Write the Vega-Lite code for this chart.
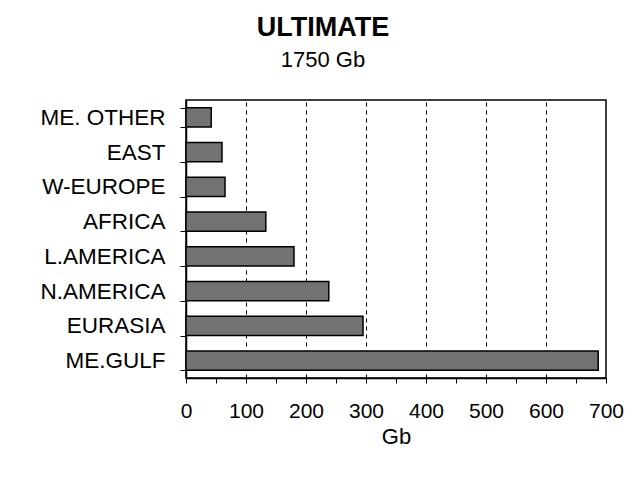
{
  "$schema": "https://vega.github.io/schema/vega-lite/v6.json",
  "autosize": "none",
  "width": 420,
  "height": 278,
  "padding": {"left": 186, "top": 100, "right": 34, "bottom": 102},
  "background": "white",
  "title": {
    "text": "ULTIMATE",
    "subtitle": "1750 Gb",
    "anchor": "middle",
    "frame": "group",
    "dx": -73,
    "offset": 17,
    "font": "Liberation Sans",
    "fontSize": 27,
    "fontWeight": "bold",
    "color": "black",
    "subtitleFont": "Liberation Sans",
    "subtitleFontSize": 22,
    "subtitleColor": "black",
    "subtitlePadding": 8
  },
  "config": {
    "view": {"stroke": "black", "strokeWidth": 1.5},
    "axis": {"labelFont": "Liberation Sans", "titleFont": "Liberation Sans", "labelColor": "black", "titleColor": "black", "domainColor": "black", "tickColor": "black"}
  },
  "data": {
    "values": [
      {"region": "ME. OTHER", "gb": 42},
      {"region": "EAST", "gb": 60},
      {"region": "W-EUROPE", "gb": 65},
      {"region": "AFRICA", "gb": 133},
      {"region": "L.AMERICA", "gb": 180},
      {"region": "N.AMERICA", "gb": 238},
      {"region": "EURASIA", "gb": 295},
      {"region": "ME.GULF", "gb": 687}
    ]
  },
  "mark": {"type": "bar", "fill": "#727272", "stroke": "black", "strokeWidth": 1.5},
  "encoding": {
    "y": {
      "field": "region",
      "type": "nominal",
      "sort": null,
      "scale": {"paddingInner": 0.44, "paddingOuter": 0.22},
      "axis": {
        "title": null,
        "labelFontSize": 22.5,
        "labelPadding": 15,
        "tickBand": "extent",
        "tickSize": 6,
        "domainWidth": 1.5,
        "grid": false
      }
    },
    "x": {
      "field": "gb",
      "type": "quantitative",
      "scale": {"domain": [0, 700], "nice": false},
      "axis": {
        "title": "Gb",
        "titleFontSize": 22,
        "titleFontWeight": "normal",
        "titlePadding": 5,
        "values": [0, 50, 100, 150, 200, 250, 300, 350, 400, 450, 500, 550, 600, 650, 700],
        "labelExpr": "datum.value % 100 === 0 ? datum.label : ''",
        "labelFontSize": 21,
        "labelPadding": 17,
        "labelFlush": false,
        "labelOverlap": false,
        "tickSize": 5,
        "domainWidth": 1.5,
        "grid": true,
        "gridColor": "black",
        "gridDash": [4, 4],
        "gridWidth": 1,
        "gridOpacity": {"condition": {"test": "datum.value % 100 === 0 && datum.value > 0 && datum.value < 700", "value": 1}, "value": 0}
      }
    }
  }
}
